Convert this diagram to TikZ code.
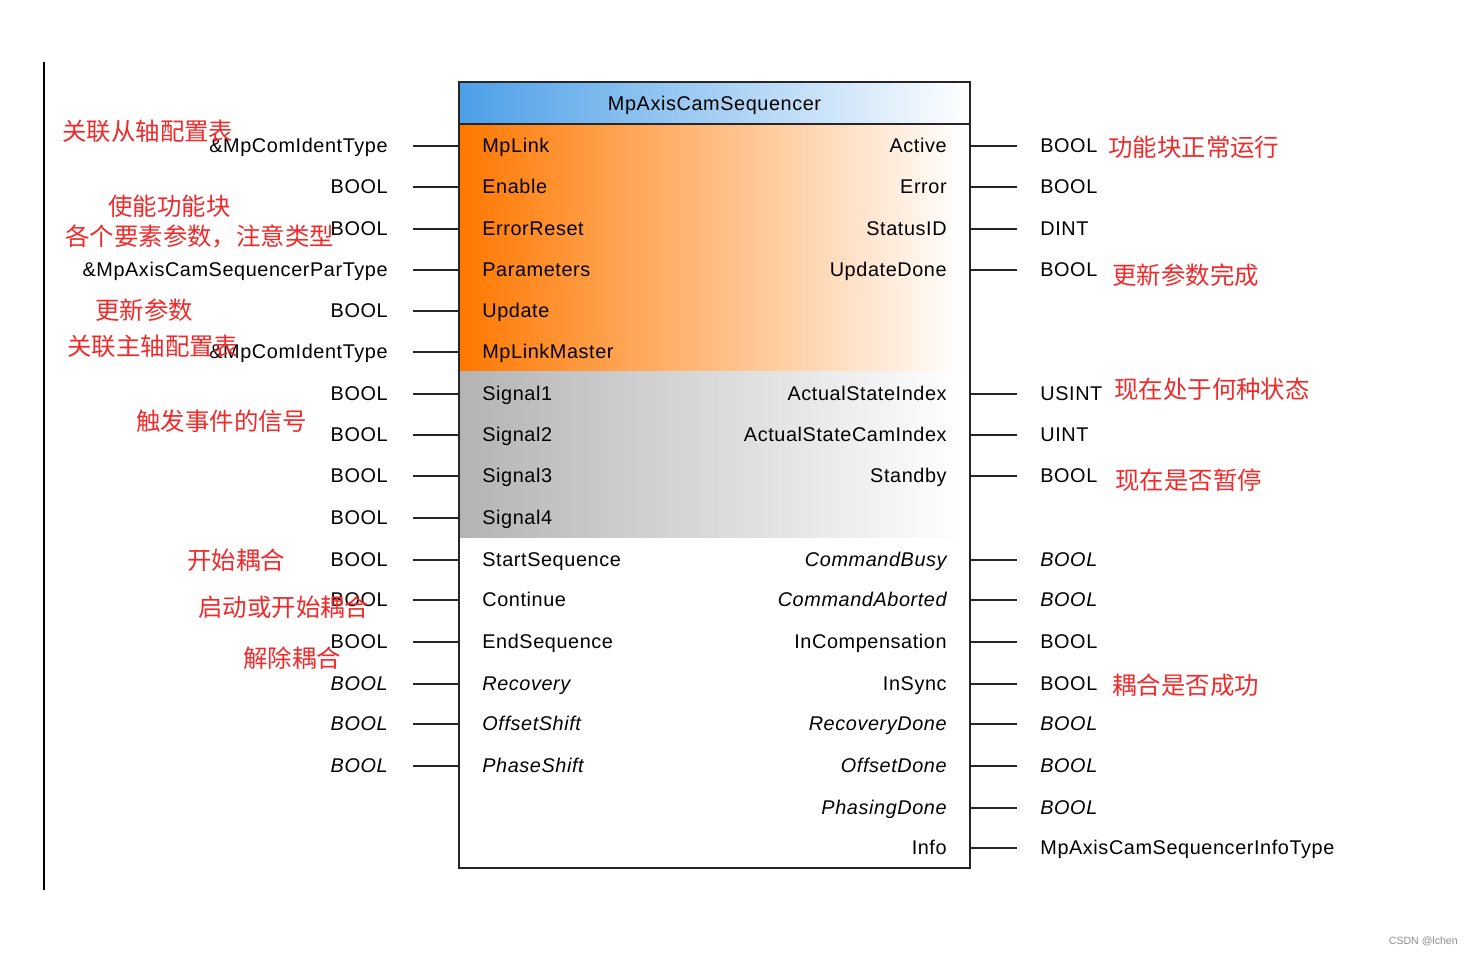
\documentclass[tikz,border=0pt]{standalone}
\usepackage{fontspec}
\setmainfont{Liberation Sans}
\newfontfamily\cjk{Noto Sans CJK SC}
\usetikzlibrary{positioning}
\definecolor{ttlblue}{HTML}{4C9FE8}
\definecolor{fborange}{HTML}{FF7800}
\definecolor{fbpeach}{HTML}{FFC2A8}
\definecolor{fbgrey}{HTML}{B4B4B4}
\definecolor{notered}{HTML}{F02A2A}
\newcommand{\portfont}{\fontsize{11.3}{13}\selectfont\addfontfeature{LetterSpace=3}}

\begin{document}
\begin{tikzpicture}[x=0.02cm, y=-0.02cm]
    \tikzstyle{port} = [inner sep=0pt, text height=0.72em, text depth=0pt, font=\portfont]
    \tikzstyle{lport} = [port, anchor=west]
    \tikzstyle{rport} = [port, anchor=east]
    \tikzstyle{pin} = [draw, line width=1.5pt, black!85]
    \tikzstyle{frame} = [draw, line width=1.6pt, black!85, minimum width=10.22cm, minimum height=15.72cm, inner sep=0pt]
    \tikzstyle{note} = [inner sep=0pt, anchor=west, text=notered, font=\cjk\fontsize{13.9}{16}\selectfont, text height=0.88em, text depth=0.12em]

    \useasboundingbox (0,0) rectangle (1473,955);

    \coordinate (railTop) at (44,62);
    \coordinate (railBot) at (44,890);
    \draw [line width=1.1pt] (railTop) -- (railBot);

    \shade [left color=ttlblue, right color=white] (459,82) rectangle (970,124);
    \shade [left color=fborange, middle color=fbpeach, right color=white] (459,124) rectangle (962,372);
    \shade [left color=fbgrey, right color=white] (459,372) rectangle (962,538);

    \node [frame] (fb) at (714.5,475) {};
    \coordinate (sepL) at (459,124);
    \coordinate (sepR) at (970,124);
    \path [pin] (sepL) -- (sepR);
    \node [port] (title) at (714.5,104) {MpAxisCamSequencer};

    \node [lport] (iMpLink) at (482,146) {MpLink};
    \node [lport] (iEnable) at (482,187) {Enable};
    \node [lport] (iErrorReset) at (482,229) {ErrorReset};
    \node [lport] (iParameters) at (482,270) {Parameters};
    \node [lport] (iUpdate) at (482,311) {Update};
    \node [lport] (iMpLinkMaster) at (482,352) {MpLinkMaster};
    \node [lport] (iSignal1) at (482,394) {Signal1};
    \node [lport] (iSignal2) at (482,435) {Signal2};
    \node [lport] (iSignal3) at (482,476) {Signal3};
    \node [lport] (iSignal4) at (482,518) {Signal4};
    \node [lport] (iStartSequence) at (482,560) {StartSequence};
    \node [lport] (iContinue) at (482,600) {Continue};
    \node [lport] (iEndSequence) at (482,642) {EndSequence};
    \node [lport] (iRecovery) at (482,684) {\itshape Recovery};
    \node [lport] (iOffsetShift) at (482,724) {\itshape OffsetShift};
    \node [lport] (iPhaseShift) at (482,766) {\itshape PhaseShift};

    \node [rport] (tMpLink) at (388,146) {\&MpComIdentType};
    \node [rport] (tEnable) at (388,187) {BOOL};
    \node [rport] (tErrorReset) at (388,229) {BOOL};
    \node [rport] (tParameters) at (388,270) {\&MpAxisCamSequencerParType};
    \node [rport] (tUpdate) at (388,311) {BOOL};
    \node [rport] (tMpLinkMaster) at (388,352) {\&MpComIdentType};
    \node [rport] (tSignal1) at (388,394) {BOOL};
    \node [rport] (tSignal2) at (388,435) {BOOL};
    \node [rport] (tSignal3) at (388,476) {BOOL};
    \node [rport] (tSignal4) at (388,518) {BOOL};
    \node [rport] (tStartSequence) at (388,560) {BOOL};
    \node [rport] (tContinue) at (388,600) {BOOL};
    \node [rport] (tEndSequence) at (388,642) {BOOL};
    \node [rport] (tRecovery) at (388,684) {\itshape BOOL};
    \node [rport] (tOffsetShift) at (388,724) {\itshape BOOL};
    \node [rport] (tPhaseShift) at (388,766) {\itshape BOOL};

    \node [rport] (iActive) at (947,146) {Active};
    \node [rport] (iError) at (947,187) {Error};
    \node [rport] (iStatusID) at (947,229) {StatusID};
    \node [rport] (iUpdateDone) at (947,270) {UpdateDone};
    \node [rport] (iActualStateIndex) at (947,394) {ActualStateIndex};
    \node [rport] (iActualStateCamIndex) at (947,435) {ActualStateCamIndex};
    \node [rport] (iStandby) at (947,476) {Standby};
    \node [rport] (iCommandBusy) at (947,560) {\itshape CommandBusy};
    \node [rport] (iCommandAborted) at (947,600) {\itshape CommandAborted};
    \node [rport] (iInCompensation) at (947,642) {InCompensation};
    \node [rport] (iInSync) at (947,684) {InSync};
    \node [rport] (iRecoveryDone) at (947,724) {\itshape RecoveryDone};
    \node [rport] (iOffsetDone) at (947,766) {\itshape OffsetDone};
    \node [rport] (iPhasingDone) at (947,808) {\itshape PhasingDone};
    \node [rport] (iInfo) at (947,848) {Info};

    \node [lport] (tActive) at (1040,146) {BOOL};
    \node [lport] (tError) at (1040,187) {BOOL};
    \node [lport] (tStatusID) at (1040,229) {DINT};
    \node [lport] (tUpdateDone) at (1040,270) {BOOL};
    \node [lport] (tActualStateIndex) at (1040,394) {USINT};
    \node [lport] (tActualStateCamIndex) at (1040,435) {UINT};
    \node [lport] (tStandby) at (1040,476) {BOOL};
    \node [lport] (tCommandBusy) at (1040,560) {\itshape BOOL};
    \node [lport] (tCommandAborted) at (1040,600) {\itshape BOOL};
    \node [lport] (tInCompensation) at (1040,642) {BOOL};
    \node [lport] (tInSync) at (1040,684) {BOOL};
    \node [lport] (tRecoveryDone) at (1040,724) {\itshape BOOL};
    \node [lport] (tOffsetDone) at (1040,766) {\itshape BOOL};
    \node [lport] (tPhasingDone) at (1040,808) {\itshape BOOL};
    \node [lport] (tInfo) at (1040,848) {MpAxisCamSequencerInfoType};

    \path [pin] ([xshift=0.5cm]tMpLink.east) -- (tMpLink -| fb.west);
    \path [pin] ([xshift=0.5cm]tEnable.east) -- (tEnable -| fb.west);
    \path [pin] ([xshift=0.5cm]tErrorReset.east) -- (tErrorReset -| fb.west);
    \path [pin] ([xshift=0.5cm]tParameters.east) -- (tParameters -| fb.west);
    \path [pin] ([xshift=0.5cm]tUpdate.east) -- (tUpdate -| fb.west);
    \path [pin] ([xshift=0.5cm]tMpLinkMaster.east) -- (tMpLinkMaster -| fb.west);
    \path [pin] ([xshift=0.5cm]tSignal1.east) -- (tSignal1 -| fb.west);
    \path [pin] ([xshift=0.5cm]tSignal2.east) -- (tSignal2 -| fb.west);
    \path [pin] ([xshift=0.5cm]tSignal3.east) -- (tSignal3 -| fb.west);
    \path [pin] ([xshift=0.5cm]tSignal4.east) -- (tSignal4 -| fb.west);
    \path [pin] ([xshift=0.5cm]tStartSequence.east) -- (tStartSequence -| fb.west);
    \path [pin] ([xshift=0.5cm]tContinue.east) -- (tContinue -| fb.west);
    \path [pin] ([xshift=0.5cm]tEndSequence.east) -- (tEndSequence -| fb.west);
    \path [pin] ([xshift=0.5cm]tRecovery.east) -- (tRecovery -| fb.west);
    \path [pin] ([xshift=0.5cm]tOffsetShift.east) -- (tOffsetShift -| fb.west);
    \path [pin] ([xshift=0.5cm]tPhaseShift.east) -- (tPhaseShift -| fb.west);

    \path [pin] (fb.east |- tActive) -- ([xshift=-0.46cm]tActive.west);
    \path [pin] (fb.east |- tError) -- ([xshift=-0.46cm]tError.west);
    \path [pin] (fb.east |- tStatusID) -- ([xshift=-0.46cm]tStatusID.west);
    \path [pin] (fb.east |- tUpdateDone) -- ([xshift=-0.46cm]tUpdateDone.west);
    \path [pin] (fb.east |- tActualStateIndex) -- ([xshift=-0.46cm]tActualStateIndex.west);
    \path [pin] (fb.east |- tActualStateCamIndex) -- ([xshift=-0.46cm]tActualStateCamIndex.west);
    \path [pin] (fb.east |- tStandby) -- ([xshift=-0.46cm]tStandby.west);
    \path [pin] (fb.east |- tCommandBusy) -- ([xshift=-0.46cm]tCommandBusy.west);
    \path [pin] (fb.east |- tCommandAborted) -- ([xshift=-0.46cm]tCommandAborted.west);
    \path [pin] (fb.east |- tInCompensation) -- ([xshift=-0.46cm]tInCompensation.west);
    \path [pin] (fb.east |- tInSync) -- ([xshift=-0.46cm]tInSync.west);
    \path [pin] (fb.east |- tRecoveryDone) -- ([xshift=-0.46cm]tRecoveryDone.west);
    \path [pin] (fb.east |- tOffsetDone) -- ([xshift=-0.46cm]tOffsetDone.west);
    \path [pin] (fb.east |- tPhasingDone) -- ([xshift=-0.46cm]tPhasingDone.west);
    \path [pin] (fb.east |- tInfo) -- ([xshift=-0.46cm]tInfo.west);

    \node [note] (nSlave) at (62,134) {关联从轴配置表};
    \node [note] (nEnable) at (108,209) {使能功能块};
    \node [note] (nPar) at (65,239) {各个要素参数，注意类型};
    \node [note] (nUpdate) at (95,313) {更新参数};
    \node [note] (nMaster) at (67,349) {关联主轴配置表};
    \node [note] (nSignal) at (136,424) {触发事件的信号};
    \node [note] (nStart) at (187,563) {开始耦合};
    \node [note] (nContinue) at (198,610) {启动或开始耦合};
    \node [note] (nEnd) at (243,661) {解除耦合};
    \node [note] (nActive) at (1108,150) {功能块正常运行};
    \node [note] (nUpdateDone) at (1112,278) {更新参数完成};
    \node [note] (nState) at (1114,392) {现在处于何种状态};
    \node [note] (nStandby) at (1115,483) {现在是否暂停};
    \node [note] (nInSync) at (1112,688) {耦合是否成功};

    \node [anchor=east, inner sep=0pt, text=black!45, font=\fontsize{6}{7}\selectfont] (mark) at (1458,941) {CSDN @lchen};
\end{tikzpicture}
\end{document}
